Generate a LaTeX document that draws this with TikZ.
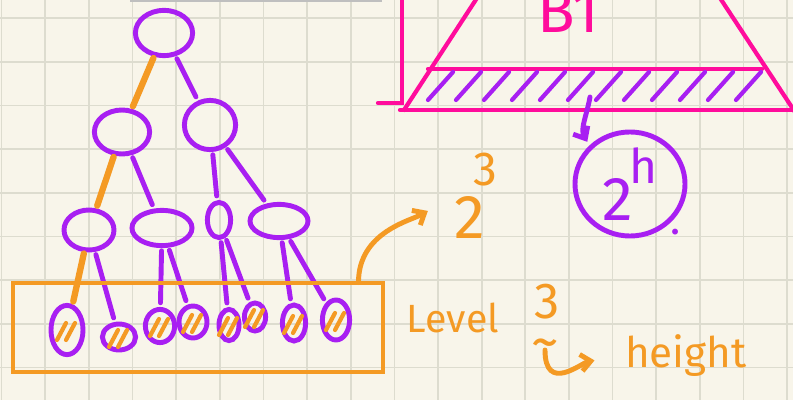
\documentclass[tikz,border=0pt]{standalone}
\usepackage{fontspec}
\setmainfont{Fira Sans}
\usetikzlibrary{positioning,shapes.geometric,arrows.meta,fit}
\definecolor{morado}{HTML}{A81FF2}
\definecolor{naranja}{HTML}{F49A24}
\definecolor{rosa}{HTML}{FF0C9C}
\definecolor{papel}{HTML}{F8F5EA}
\definecolor{rejilla}{HTML}{DDDCCF}
\tikzset{
  nodo/.style={ellipse, draw=morado, line width=3.5pt, inner sep=0pt},
  hoja/.style={nodo},
  arista/.style={morado, line width=3.5pt, line cap=round, shorten <=2pt, shorten >=3pt},
  camino/.style={naranja, line width=4.5pt, line cap=round, shorten <=1pt, shorten >=2pt},
  rayita/.style={naranja, line width=3pt, line cap=round},
  caja/.style={draw=naranja, line width=3.5pt, inner sep=0pt},
  flecha/.style={naranja, line width=3.5pt, line cap=round, -{Straight Barb[length=7pt,width=12pt]}},
  flechamor/.style={morado, line width=3.5pt, line cap=round, -{Straight Barb[length=7pt,width=12pt]}},
  trazo/.style={rosa, line width=3pt, line cap=round},
  rayado/.style={morado, line width=3pt, line cap=round},
  letra/.style={naranja, font=\fontsize{28}{28}\selectfont, inner sep=0pt, anchor=base},
}

\begin{document}
\begin{tikzpicture}[x=0.025cm, y=-0.025cm]
  \useasboundingbox (0,0) rectangle (793,400);
  \fill[papel] (0,0) rectangle (793,400);
  \foreach \k in {0,...,18} \draw[rejilla, line width=1.2pt] ({1.5+43.65*\k},0) -- ++(0,400);
  \foreach \k in {0,...,8} \draw[rejilla, line width=1.2pt] (0,{18+43.7*\k}) -- ++(793,0);
  \draw[gray!50, line width=2pt] (130,0.5) -- (382,0.5);

  \node[nodo, minimum width=1.43cm, minimum height=1.13cm] (raiz) at (164,33) {};
  \node[nodo, minimum width=1.38cm, minimum height=1.1cm] (izq) at (122,132) {};
  \node[nodo, minimum width=1.28cm, minimum height=1.23cm] (der) at (210,125) {};
  \node[nodo, minimum width=1.25cm, minimum height=1cm] (a) at (89,230) {};
  \node[nodo, minimum width=1.5cm, minimum height=0.88cm] (b) at (162,228) {};
  \node[nodo, minimum width=0.58cm, minimum height=0.88cm] (c) at (219,220) {};
  \node[nodo, minimum width=1.45cm, minimum height=0.83cm] (d) at (279,221) {};
  \foreach \i/\x/\y/\w/\h in {1/67/330/0.8/1.23, 2/119/337/0.83/0.65, 3/160/326/0.73/0.83, 4/193/322/0.7/0.8,
                              5/229/325/0.5/0.78, 6/255/317/0.53/0.7, 7/294/323/0.58/0.9, 8/336/320/0.68/1.0} {
    \node[hoja, minimum width=\w cm, minimum height=\h cm] (l\i) at (\x,\y) {};
    \draw[rayita] ([shift={(-10,10)}]l\i.center) -- ++(9,-17);
    \draw[rayita] ([shift={(-1,10)}]l\i.center) -- ++(9,-17);
  }
  \foreach \u/\v in {raiz/der, izq/b, der/c, der/d, a/l2, b/l3, b/l4, c/l5, c/l6, d/l7, d/l8}
    \draw[arista] (\u) -- (\v);
  \foreach \u/\v in {raiz/izq, izq/a, a/l1}
    \draw[camino] (\u) -- (\v);

  \coordinate (c1) at (13,283);
  \coordinate (c2) at (383,372);
  \node[caja, fit=(c1)(c2)] (nivel) {};

  \node[letra, font=\fontsize{44}{44}\selectfont] (pot) at (476,238) {2\kern-0.2em\raisebox{0.85em}{\fontsize{34}{34}\selectfont 3}};
  \draw[flecha, shorten >=22pt] ([shift={(-27,2)}]nivel.north east) to[out=90, in=210] (pot.west);

  \node[letra] (nivtxt) at (453,332) {Level};
  \node[letra, font=\fontsize{36}{36}\selectfont] (tres) at (547,318) {3};
  \node[naranja, font=\fontsize{40}{40}\selectfont, inner sep=0pt] (tilde) at (545,350) {\textasciitilde};
  \node[letra, font=\fontsize{30}{30}\selectfont] (altura) at (686,367) {height};
  \draw[flecha, shorten >=22pt] (tilde.center) to[out=-90, in=190, looseness=1.4] (altura.west);

  \draw[trazo] (477,-2) -- (404,110);
  \draw[trazo] (400,110) -- (795,110);
  \draw[trazo] (720,-2) -- (795,112);
  \draw[trazo] (402,-2) -- (402,103) -- (378,103);
  \draw[trazo] (428,69) -- (762,69);
  \node[rosa, font=\fontsize{44}{44}\selectfont, anchor=base, inner sep=0pt] (bt) at (568,33) {B1};
  \foreach \x in {428,456,...,736} \draw[rayado] (\x,100) -- ++(25,-28);

  \node[nodo, minimum width=2.75cm, minimum height=2.6cm, font=\fontsize{44}{44}\selectfont, text=morado] (circ) at (630,184)
    {2\kern-0.05em\raisebox{0.6em}{\fontsize{34}{34}\selectfont h}};
  \coordinate (banda) at (590,97);
  \draw[flechamor, shorten >=3pt] (banda) to[out=-100, in=120] (circ.north west);
  \node[morado, font=\fontsize{30}{30}\selectfont, inner sep=0pt] (punto) at (676,232) {.};
\end{tikzpicture}
\end{document}
